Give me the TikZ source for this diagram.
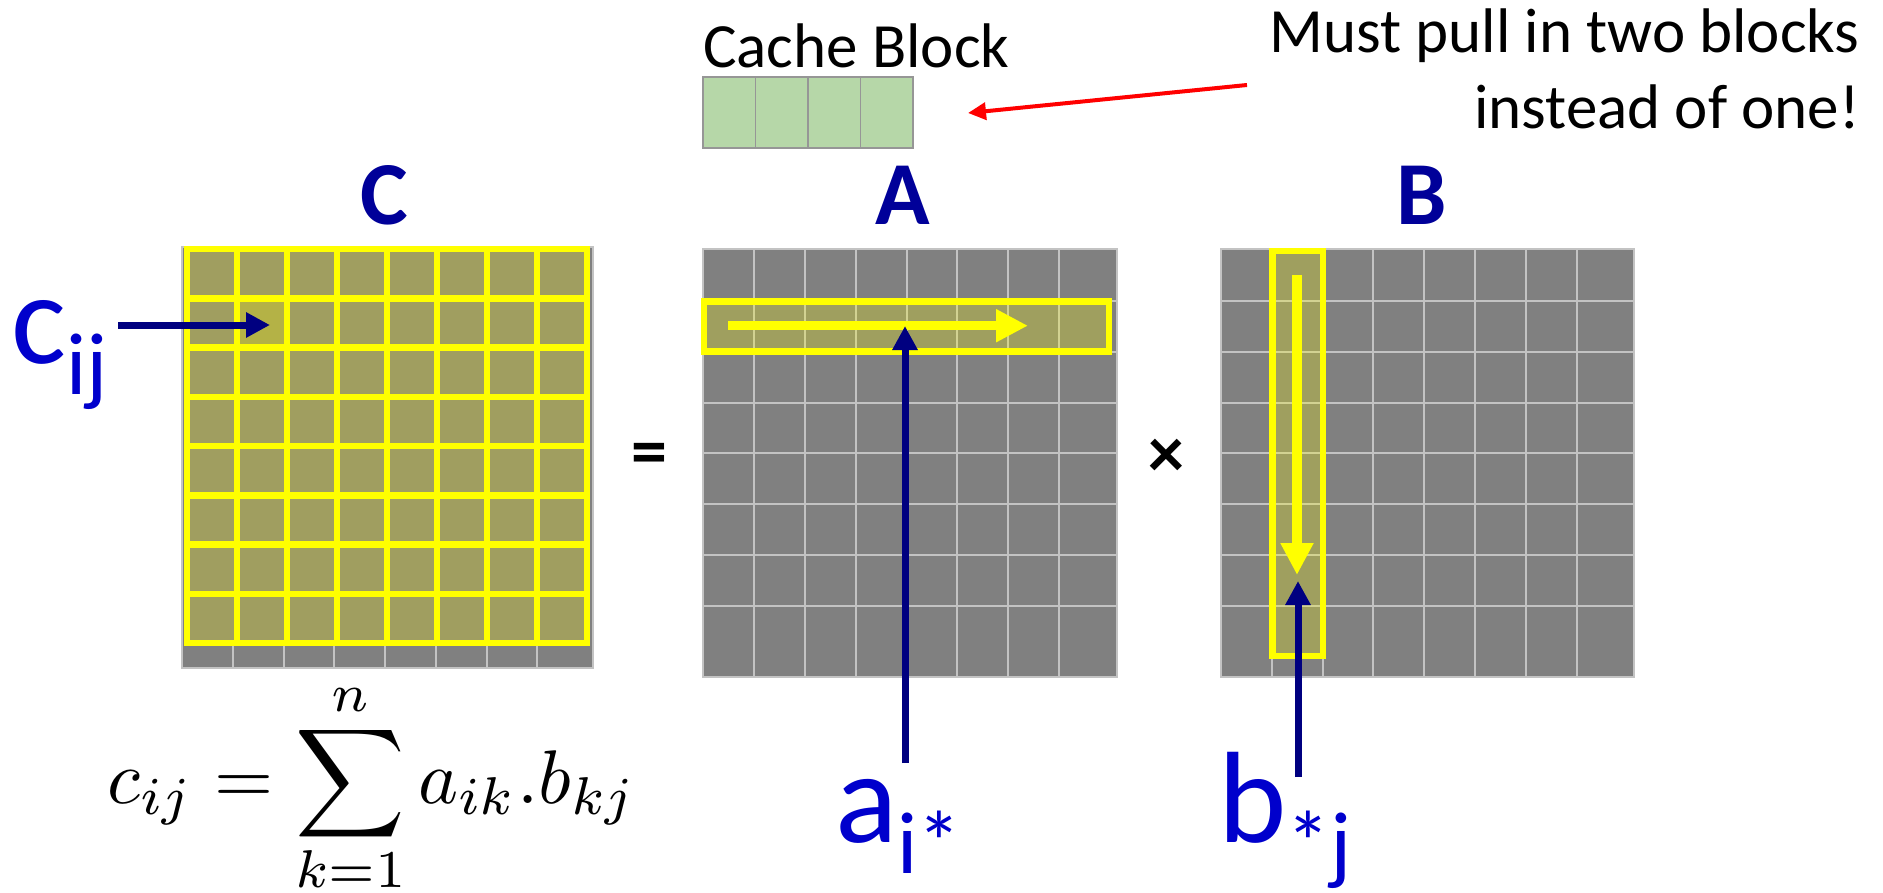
\documentclass[tikz,border=0pt]{standalone}
\usepackage{fontspec}
\setmainfont{Carlito}
\usetikzlibrary{arrows.meta}
\definecolor{matgray}{RGB}{128,128,128}
\definecolor{gridgray}{RGB}{195,195,195}
\definecolor{olivecell}{RGB}{160,158,96}
\definecolor{hilite}{RGB}{180,178,70}
\definecolor{navyarrow}{RGB}{0,0,128}
\definecolor{labelblue}{RGB}{0,0,204}
\definecolor{titlenavy}{RGB}{0,0,153}
\definecolor{cachegreen}{RGB}{182,215,168}
\definecolor{cacheborder}{RGB}{150,150,150}
\definecolor{pureyellow}{RGB}{255,255,0}
\definecolor{purered}{RGB}{255,0,0}
\newcommand\mysub[1]{\raisebox{-31pt}{\fontsize{88}{88}\selectfont #1}}
\begin{document}
\begin{tikzpicture}[x=1pt,y=-1pt,
  navyarr/.style={draw=navyarrow, line width=7pt, -{Triangle[length=24pt,width=24pt]}},
  yelarr/.style={draw=pureyellow, line width=9.5pt, -{Triangle[length=32pt,width=31pt]}},
  redarr/.style={draw=purered, line width=4pt, -{Triangle[length=18pt,width=17pt]}},
  ygrid/.style={draw=pureyellow, line width=6.5pt},
  gline/.style={draw=gridgray, line width=2pt},
  lbl/.style={text=labelblue, inner sep=0pt, anchor=base west, font=\fontsize{130}{130}\selectfont},
  title/.style={text=titlenavy, inner sep=0pt, anchor=base, font=\bfseries\fontsize{90}{90}\selectfont},
  note/.style={inner sep=0pt, font=\fontsize{63}{76}\selectfont},
  opsym/.style={inner sep=0pt, font=\bfseries\fontsize{72}{72}\selectfont}]
\useasboundingbox (0,0) rectangle (1883,892);

% ---- Matrix C (gray base) ----
\fill[matgray] (182,247) rectangle (593,668);
\foreach \x in {233,284,334,385,436,487,537} \draw[gline] (\x,247) -- (\x,668);
\draw[gline] (182,247) rectangle (593,668);
% yellow overlay
\fill[olivecell] (187,249) rectangle (587,643);
\fill[hilite] (235,298.25) rectangle (285,347.5);
\foreach \i in {1,...,7} {
  \draw[ygrid] (187+50*\i,249) -- (187+50*\i,643);
  \draw[ygrid] (187,249+49.25*\i) -- (587,249+49.25*\i);
}
\draw[ygrid] (187,249) rectangle (587,643);

% ---- Matrix A ----
\fill[matgray] (703,249) rectangle (1117,677);
\foreach \x in {754,805,856,907,957,1008,1059} \draw[gline] (\x,249) -- (\x,677);
\foreach \y in {301,352,403,453,504,555,606} \draw[gline] (703,\y) -- (1117,\y);
\draw[gline] (703,249) rectangle (1117,677);
\draw[ygrid, fill=pureyellow, fill opacity=0.25] (704,301.5) rectangle (1109,351.5);

% ---- Matrix B ----
\fill[matgray] (1221,249) rectangle (1634,677);
\foreach \x in {1272,1323,1373,1424,1475,1526,1577} \draw[gline] (\x,249) -- (\x,677);
\foreach \y in {301,352,403,453,504,555,606} \draw[gline] (1221,\y) -- (1634,\y);
\draw[gline] (1221,249) rectangle (1634,677);
\draw[ygrid, fill=pureyellow, fill opacity=0.25] (1272.5,251) rectangle (1323,656);

% ---- Cache block ----
\draw[draw=cacheborder, fill=cachegreen, line width=1.5pt] (703,77) rectangle (913,148);
\foreach \x in {755.5,808,860.5} \draw[draw=cacheborder, line width=1.5pt] (\x,77) -- (\x,148);

% ---- Texts ----
\node[title] (tC) at (384,224) {C};
\node[title] (tA) at (903,224) {A};
\node[title] (tB) at (1422,224) {B};
\node[note, anchor=base west] (cache) at (703,67) {Cache Block};
\node[note, anchor=base east] (must1) at (1860,52) {Must pull in two blocks};
\node[note, anchor=base east] (must2) at (1860,128) {instead of one!};
\node[opsym] (eq) at (649,459) {=};
\node[opsym] (times) at (1166,458) {×};
\node[lbl] (cij) at (11,363) {c\mysub{ij}};
\node[lbl] (aik) at (835,842) {a\mysub{i*}};
\node[lbl] (bkj) at (1218,842) {b\mysub{*j}};
\node[inner sep=0pt, anchor=base] (formula) at (372,803)
  {\scalebox{7.6}{$\fontdimen9\textfont3=1.5pt \fontdimen10\textfont3=0.8pt
   \fontdimen11\textfont3=0pt \fontdimen12\textfont3=0pt
   \fontdimen13\textfont3=0pt
   \displaystyle c_{ij} = \sum_{k=1}^{n} a_{ik}.b_{kj}$}};

% ---- Arrows ----
\coordinate (redS) at (1247,85);
\coordinate (redE) at (968,113);
\draw[redarr] (redS) -- (redE);
\coordinate (yaS) at (728,325.7);
\coordinate (yaE) at (1028,325.7);
\draw[yelarr] (yaS) -- (yaE);
\coordinate (ybS) at (1297,275);
\coordinate (ybE) at (1297,575);
\draw[yelarr] (ybS) -- (ybE);
\coordinate (ncS) at (118,325);
\coordinate (ncE) at (270,325);
\draw[navyarr] (ncS) -- (ncE);
\coordinate (naS) at (905,763);
\coordinate (naE) at (905,326);
\draw[navyarr] (naS) -- (naE);
\coordinate (nbS) at (1298,777);
\coordinate (nbE) at (1298,581);
\draw[navyarr] (nbS) -- (nbE);
\end{tikzpicture}
\end{document}
